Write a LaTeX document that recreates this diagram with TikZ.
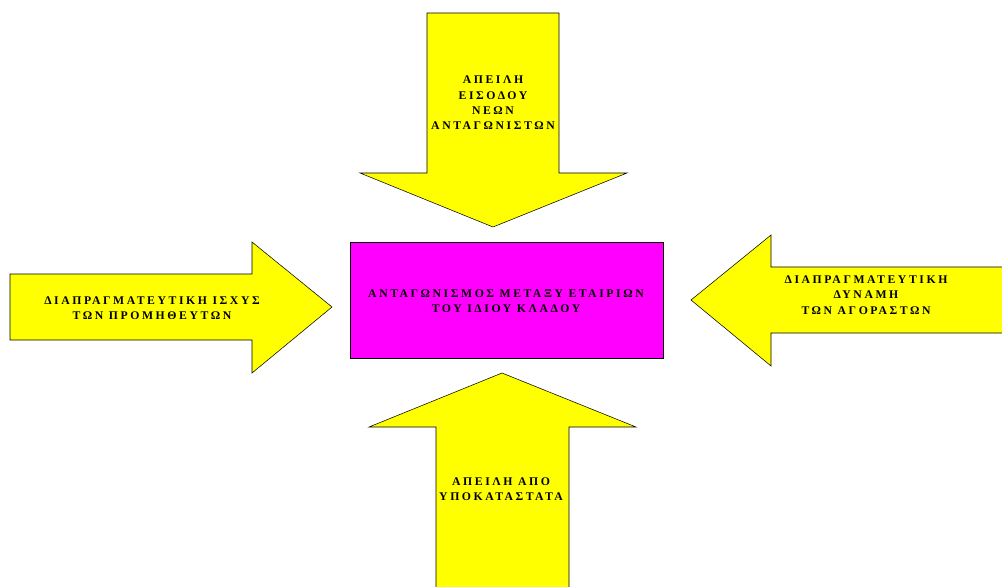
\documentclass[tikz,border=0pt]{standalone}
\usepackage{fontspec}
\newfontfamily\grk{Liberation Serif}[LetterSpace=22]
\usepackage{tikz}
\definecolor{arrowyellow}{RGB}{255,255,0}
\definecolor{boxmagenta}{RGB}{255,0,255}

\begin{document}
\begin{tikzpicture}[x=0.75pt, y=-0.75pt,
  every node/.style={font=\grk\bfseries\fontsize{8.8}{11.5}\selectfont, align=center, inner sep=0pt, outer sep=0pt},
  arrowbody/.style={draw=black, thin, fill=arrowyellow}]
\useasboundingbox (0,0) rectangle (1002,586);

% arrows
\draw[arrowbody] (427,13) -- (559,13) -- (559,173) -- (627,173) -- (493,227) -- (360,173) -- (427,173) -- cycle;
\draw[arrowbody] (10,274) -- (252,274) -- (252,242) -- (332,307) -- (252,373) -- (252,340) -- (10,340) -- cycle;
\draw[arrowbody] (1004,267) -- (771,267) -- (771,235) -- (691,300) -- (771,366) -- (771,333) -- (1004,333);
\draw[arrowbody] (436,588) -- (436,427) -- (369,427) -- (502,373) -- (636,427) -- (569,427) -- (569,588);

% centre box
\node[draw=black, thin, fill=boxmagenta, minimum width=313*0.75pt, minimum height=116*0.75pt] (kladou) at (506.5,300) {};

% texts
\node (eisodos) at (493,103) {ΑΠΕΙΛΗ\\ΕΙΣΟΔΟΥ\\ΝΕΩΝ\\ΑΝΤΑΓΩΝΙΣΤΩΝ};
\node (promitheftes) at (152,308) {ΔΙΑΠΡΑΓΜΑΤΕΥΤΙΚΗ ΙΣΧΥΣ\\ΤΩΝ ΠΡΟΜΗΘΕΥΤΩΝ};
\node (agorastes) at (866,295) {ΔΙΑΠΡΑΓΜΑΤΕΥΤΙΚΗ\\ΔΥΝΑΜΗ\\ΤΩΝ ΑΓΟΡΑΣΤΩΝ};
\node (antagonismos) at (506,301) {ΑΝΤΑΓΩΝΙΣΜΟΣ ΜΕΤΑΞΥ ΕΤΑΙΡΙΩΝ\\ΤΟΥ ΙΔΙΟΥ ΚΛΑΔΟΥ};
\node (ypokatastata) at (501,489) {ΑΠΕΙΛΗ ΑΠΟ\\ΥΠΟΚΑΤΑΣΤΑΤΑ};
\end{tikzpicture}
\end{document}
